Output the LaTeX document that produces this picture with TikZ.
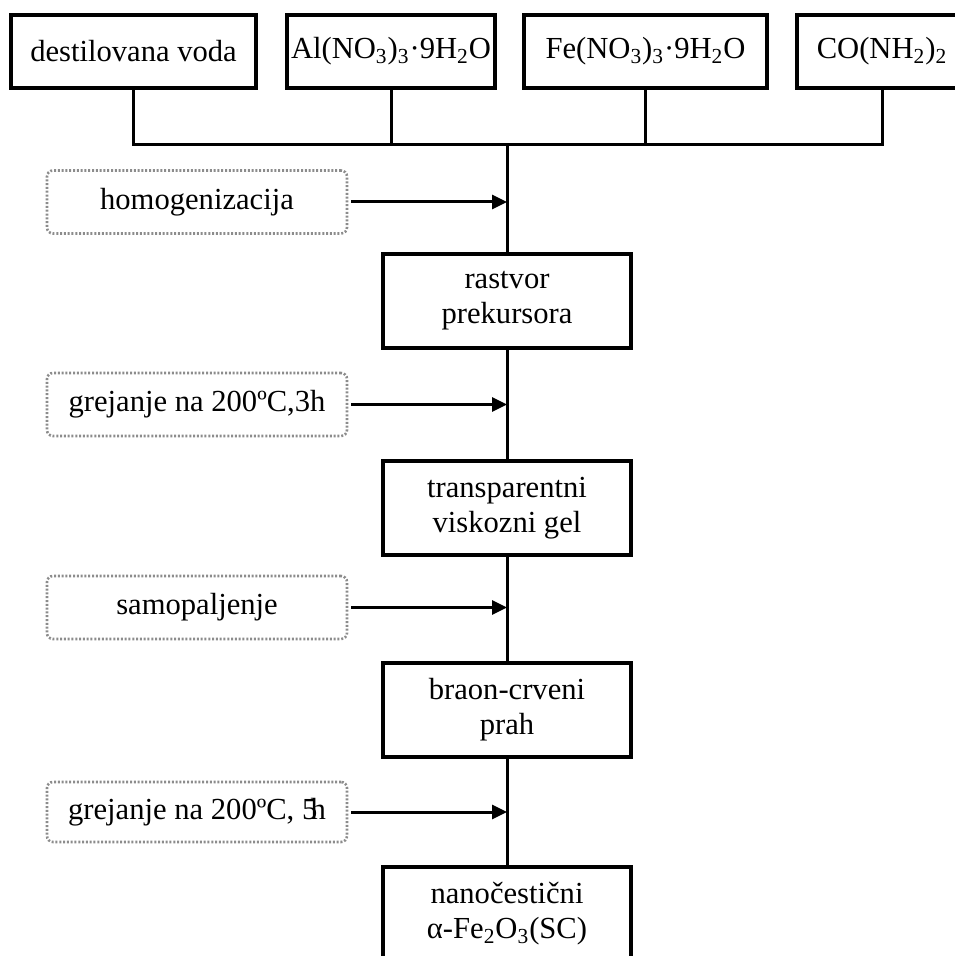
\documentclass[tikz,border=0pt]{standalone}
\usepackage{fontspec}
\setmainfont{Liberation Serif}
\usetikzlibrary{arrows.meta}
\begin{document}
\begin{tikzpicture}[x=0.5pt,y=-0.5pt,
  every node/.style={font=\fontsize{15.3}{17.5}\selectfont, inner sep=0pt, align=center},
  topbox/.style={draw, line width=1.6pt, minimum height=36.5pt},
  stepbox/.style={draw, line width=1.6pt, minimum width=124pt, minimum height=47pt},
  opbox/.style={draw=black!45, line width=1.3pt, dash pattern=on 1pt off 0.9pt, rounded corners=3pt, minimum width=150pt, minimum height=31.5pt},
  conn/.style={line width=1.5pt},
  arr/.style={line width=1.5pt, -{Triangle[length=7.5pt,width=7pt]}, shorten <=1.5pt}
]
\useasboundingbox (0,0) rectangle (954,956);
% top row
\node[topbox, minimum width=122.5pt] (b1) at (133.5,51.5) {destilovana voda};
\node[topbox, minimum width=104pt] (b2) at (391,51.5) {Al(NO\textsubscript{3})\textsubscript{3}·9H\textsubscript{2}O};
\node[topbox, minimum width=121.5pt] (b3) at (645.5,51.5) {Fe(NO\textsubscript{3})\textsubscript{3}·9H\textsubscript{2}O};
\node[topbox, minimum width=85pt] (b4) at (882,51.5) {CO(NH\textsubscript{2})\textsubscript{2}};
\coordinate (bus) at (507,145);
% steps
\node[stepbox] (s1) at (507,301) {rastvor\\prekursora};
\node[stepbox] (s2) at (507,508) {transparentni\\viskozni gel};
\node[stepbox] (s3) at (507,710) {braon-crveni\\prah};
\node[stepbox] (s4) at (507,914) {nanočestični\\α-Fe\textsubscript{2}O\textsubscript{3}(SC)};
% operations
\node[opbox] (d1) at (197,202) {homogenizacija};
\node[opbox] (d2) at (197,404.5) {grejanje na 200ºC,3h};
\node[opbox] (d3) at (197,607.5) {samopaljenje};
\node[opbox, minimum height=30pt] (d4) at (197,812) {grejanje na 200ºC, 5\kern-0.22em h};
% connectors
\draw[conn] (b1.south) |- (b4.south |- bus) -- (b4.south);
\draw[conn] (b2.south) -- (b2.south |- bus);
\draw[conn] (b3.south) -- (b3.south |- bus);
\draw[conn] (bus) -- (s1.north);
\draw[conn] (s1.south) -- (s2.north);
\draw[conn] (s2.south) -- (s3.north);
\draw[conn] (s3.south) -- (s4.north);
\draw[arr] (d1.east) -- (d1.east -| s1.north);
\draw[arr] (d2.east) -- (d2.east -| s1.north);
\draw[arr] (d3.east) -- (d3.east -| s1.north);
\draw[arr] (d4.east) -- (d4.east -| s1.north);
\end{tikzpicture}
\end{document}
